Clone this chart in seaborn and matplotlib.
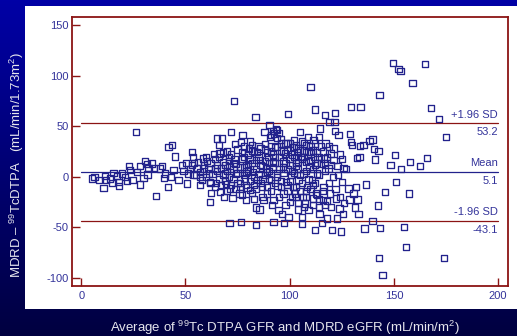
import numpy as np
import pandas as pd
import matplotlib
matplotlib.use("Agg")
import matplotlib.pyplot as plt
from matplotlib.markers import MarkerStyle
from matplotlib.patches import Rectangle
from matplotlib.colors import LinearSegmentedColormap
import seaborn as sns

# ---- data (average GFR, difference MDRD - 99TcDTPA) ----
pts_low = [
    (5.1, -1.6), (6.4, 0), (8.5, -3.3), (10.7, -10.9), (11.7, -3.3), (11.5, 0.7),
    (13.9, -1.6), (14.9, -5.9), (15.5, 4), (17.1, 0.7), (18.1, -5), (18.2, -9.2),
    (19.5, 3.3), (21.1, 0), (21.9, -4), (22.9, 10.5), (23.5, 6.6), (24.6, -3.3),
    (26.4, 44.2), (26.7, 4.9), (28.3, 10.5), (28.3, -7.6), (29.9, -1), (30.5, 15.5),
    (31.5, 12.5), (32.3, 8.9), (31.8, 2.3), (33.9, 13.2), (35, 8.9), (36, -19.1),
    (37.9, 8.2), (38.7, 10.9), (39.8, -1), (40.3, 3.3), (41.6, -9.9), (41.9, 29.7),
    (43.5, 31.3), (43, 0), (44.3, 6.6), (45.1, 20.1), (46.7, -3.3), (48.3, 11.5),
    (49.1, 5.9), (50.4, 13.8), (51.3, 3.3), (50.7, -6.6), (53.1, 24.7), (53.6, 19.8),
    (54.2, 13.8), (53.9, 2.3), (55.5, 8.9), (56.8, -8.2), (57.1, 0), (58.4, 18.1),
    (59, 8.2), (60.3, 15.8), (61.1, 3.3), (61.6, -24.7), (62.2, -15.8), (61.9, -4.9),
    (63.5, 22.4), (64.3, 8.2), (64.7, -5.9), (65.1, 37.9), (65.9, 31.3), (66.3, 23.1),
    (66.7, -14.8), (67.5, 37.9), (68, 14.8), (68.3, -19.8), (69.1, 3.3), (69.5, -7.3),
]
pts_mid = [
    (70.7, 19.8), (71.1, 10.5), (71.5, -11.5), (71.9, 44.5), (72.6, -20.8), (73.1, 75.1),
    (73.5, 17.1), (73.9, 32.3), (74.3, 3.3), (75, -5.9), (75.9, -16.5), (76.6, 34.6),
    (77.1, 24.7), (77.4, 41.2), (77.9, 9.9), (78.7, -1.6), (79.1, -23.1), (79.8, -10.5),
    (80.3, 28), (80.7, 17.1), (81.1, -13.2), (81.9, 31.3), (82.3, 4.9), (82.7, -22.1),
    (83.6, 59.3), (83.9, -30.3), (84.3, 24.7), (84.6, -3.3), (85.5, -32.3), (85.9, 16.5),
    (86.6, -9.9), (87.4, -23.1), (87.9, 44.5), (88.3, 32.3), (88.7, 8.2), (89, -16.5),
    (89.8, 19.8), (90.3, 51.1), (90.6, 39.6), (91, -3.3), (91.4, -28), (91.9, 14.8),
    (92.2, -23.1), (92.6, 42.8), (93, 29.7), (93.5, 47.1), (93.8, 3.3), (94.2, -9.2),
    (94.6, -33), (95.1, 19.8), (95.8, 36.9), (96.2, -36.3), (96.7, 9.9), (97, -16.5),
    (97.8, 23.1), (98.3, -4.9), (99, 33), (99.3, 62.3), (99.4, -39.6), (99.9, 18.1),
    (100.2, -24.7), (100.7, 1.6), (101.5, -9.9), (101.8, 29.7), (102.6, -16.5), (103, 10.9),
    (103.4, 24.7), (103.9, -32.3), (104.2, -3.3), (105, 44.2), (105.4, 19.8), (105.8, -39.6),
    (106.3, -19.8), (106.6, 3.3), (107, 33), (107.4, -26.4), (107.9, 14.8), (108.2, -9.9),
    (108.6, 39.6), (109, -33), (109.5, 9.9), (110, 89), (110.2, 24.7), (110.6, -3.3),
    (111.1, -21.4), (111.4, 36.3), (111.9, 19.8), (112.2, 66.6), (112.2, -52.1), (112.6, -16.5),
    (113, 3.3), (113.9, 39.6), (114.3, -36.3), (114.6, 47.8), (115, 13.2), (115.4, -45.5),
    (115.9, -23.1), (116.2, -9.9), (116.5, 18.1), (116.9, 61), (117.2, 33), (117.8, -41.2),
    (118.6, 8.2), (119.1, 54), (119.4, -16.5), (119.7, 23.1), (120.4, -52.7), (120.7, 0),
    (121.5, 54), (121.8, 63), (121.8, 45.5), (122.3, -21.4), (122.6, -41.2), (122.9, 10.5),
    (123.4, 41.2), (123.9, -31.3), (124.2, 22.1), (124.6, -54), (125, -4.9), (125.5, -36.3),
    (125.8, 8.9), (71.1, -45.2), (76.7, -44.8), (83.9, -47.5), (92.2, -44.5), (97.2, -45.5),
    (106, -46.5),
]
pts_high = [
    (128.2, -11.5), (128.7, -22.4), (129, 42.2), (129.3, 34.6), (129.3, 69.2), (129.8, 31.3),
    (130.6, -16.5), (131.4, -30.3), (131.9, -9.9), (132.2, 18.8), (132.5, -22.4), (133, -36.3),
    (133.5, 19.8), (134, 69.2), (133.8, 30.3), (135.4, 31.3), (135.9, -51.1), (136.5, -7.6),
    (138.3, 35.6), (139.7, 36.9), (139.7, -43.5), (140.5, 27.7), (141, 17.1), (142.3, -28.3),
    (142.6, 25.7), (143.1, 81.1), (143.2, -50.4), (142.9, -79.8), (144.5, -96.9), (145.6, -14.8),
    (148.4, 11.5), (149.5, 112.4), (150.4, 21.8), (151.1, -5.3), (152.2, 106.5), (153.2, 104.5),
    (153.5, 7.6), (154.9, -49.4), (155.8, -69.2), (157.2, -16.5), (157.6, 14.8), (158.9, 92.9),
    (162.7, 10.9), (164.8, 111.7), (166, 18.8), (167.9, 68.2), (171.5, 57.3), (174.1, -79.8),
    (174.9, 39.2),
]
pts_dense = [
    (52, 8), (53, 12), (55, 2), (56, 15), (57, 5), (58, -3), (59, 12), (60, 0), (60, 20),
    (61, 8), (62, -6), (62, 14), (63, 3), (64, 18), (64, -10), (65, 6), (65, 12), (66, -2),
    (66, 20), (67, 9), (67, -8), (68, 2), (68, 24), (69, 12), (69, -4), (70, 6), (70, -14),
    (71, 16), (71, 0), (72, -8), (72, 22), (73, 8), (73, -2), (74, 13), (74, -12), (75, 4),
    (75, 27), (76, -6), (76, 10), (77, 18), (77, -18), (78, 2), (78, 30), (79, 12), (79, -8),
    (80, 6), (80, 22), (81, -4), (81, 35), (82, 14), (82, -16), (83, 0), (83, 25), (84, 8),
    (84, -12), (85, 20), (85, 3), (86, -6), (86, 28), (87, 11), (87, -20), (88, 2), (88, 16),
    (89, -10), (89, 24), (90, 6), (90, -2), (91, 30), (91, -14), (92, 10), (92, 22), (93, -6),
    (93, 14), (94, 0), (94, 38), (95, -20), (95, 8), (96, 26), (96, -10), (97, 4), (97, 16),
    (98, -28), (98, 33), (99, 8), (99, -14), (100, 12), (100, -4), (101, 22), (101, -20),
    (102, 4), (102, 36), (103, -10), (103, 14), (104, -26), (104, 28), (105, 2), (105, -14),
    (106, 18), (106, -6), (107, 26), (107, -30), (108, 6), (108, -20), (109, 16), (109, -2),
    (110, 30), (110, -12), (111, 8), (111, -28), (112, 12), (112, -6), (113, 24), (113, -18),
    (114, 2), (114, -30), (115, 30), (116, -14), (117, 6), (118, -24), (118, 20), (119, -6),
    (120, 12), (120, -30), (121, 28), (122, -12), (123, 2), (124, -20), (125, 18), (126, -26),
    (127, 8), (92, 45), (94, 46), (95, 43), (91, 41),
]
pts_extra = [
    (78, 20), (80, 13), (82, 26), (84, 17), (85, 30), (86, 12), (88, 27), (89, 5), (90, 14),
    (91, 25), (93, 20), (94, 30), (96, 33), (97, 25), (98, 14), (99, 27), (100, 33), (101, 6),
    (102, 20), (103, 31), (104, 15), (105, 26), (106, 35), (107, 20), (108, 31), (109, 25),
    (110, 17), (111, 26), (112, 33), (113, 14), (114, 20), (116, 25), (117, 14), (119, 30),
    (121, 17), (104, 8), (96, -4), (99, -8), (103, -20), (108, -14), (111, -8), (114, -22),
    (117, -28), (87, -2), (83, -8), (79, 4), (76, -10), (73, 14), (70, 25),
]

mean_diff = 5.1
upper_loa = 53.2
lower_loa = -43.1
x_ticks = [0, 50, 100, 150, 200]
y_ticks = [-100, -50, 0, 50, 100, 150]

df = pd.DataFrame(pts_low + pts_mid + pts_high + pts_dense + pts_extra,
                  columns=["avg", "diff"])

# ---- style ----
sns.set_style("white")
plt.rcParams["font.family"] = ["Liberation Sans", "DejaVu Sans"]
plt.rcParams["mathtext.fontset"] = "custom"
plt.rcParams["mathtext.rm"] = "Liberation Sans"
plt.rcParams["mathtext.it"] = "Liberation Sans"

W, H = 517, 336
fig = plt.figure(figsize=(W / 100, H / 100), dpi=100)

# background gradient
bg = fig.add_axes([0, 0, 1, 1], zorder=-10)
grad = np.linspace(0, 1, 256).reshape(-1, 1)
cmap = LinearSegmentedColormap.from_list("bgblue", ["#0000a6", "#000040"])
bg.imshow(grad, aspect="auto", cmap=cmap, extent=[0, 1, 0, 1], origin="upper")
bg.add_patch(Rectangle((25 / W, 1 - 309 / H), 1 - 25 / W, (309 - 6) / H,
                       facecolor="white", edgecolor="none"))
bg.set_xlim(0, 1)
bg.set_ylim(0, 1)
bg.axis("off")

ax = fig.add_axes([72.3 / W, 1 - 285.7 / H, (507.7 - 72.3) / W, (285.7 - 16.7) / H])
ax.set_facecolor("white")

navy = "#22228c"
red = "#8b1414"
lab = "#33339a"

sns.scatterplot(data=df, x="avg", y="diff", ax=ax,
                marker=MarkerStyle("s", fillstyle="none"), s=20,
                color=navy, linewidth=0.95, legend=False, zorder=3)

ax.plot([0, 200], [upper_loa, upper_loa], color=red, lw=0.9, zorder=2)
ax.plot([0, 200], [lower_loa, lower_loa], color=red, lw=0.9, zorder=2)
ax.plot([0, 200], [mean_diff, mean_diff], color=navy, lw=0.9, zorder=2)

fs = 8
for yv, top, bot in [(upper_loa, "+1.96 SD", f"{upper_loa}"),
                     (mean_diff, "Mean", f"{mean_diff}"),
                     (lower_loa, "-1.96 SD", f"{lower_loa}")]:
    ax.annotate(top, (200, yv), xytext=(0, 2.5), textcoords="offset points",
                ha="right", va="bottom", fontsize=fs, color=lab)
    ax.annotate(bot, (200, yv), xytext=(0, -3), textcoords="offset points",
                ha="right", va="top", fontsize=fs, color=lab)

ax.set_xlim(-4.3, 204.6)
ax.set_ylim(-107.5, 158.2)
ax.set_xticks(x_ticks)
ax.set_yticks(y_ticks)
ax.set_xticklabels([str(t) for t in x_ticks])
ax.set_yticklabels([str(t) for t in y_ticks])
ax.tick_params(axis="both", direction="in", length=6, width=1.0, color=red,
               labelsize=fs, labelcolor=lab, bottom=True, left=True, top=False, right=False)
ax.tick_params(axis="x", pad=4)
ax.tick_params(axis="y", pad=2.5)
for sp in ax.spines.values():
    sp.set_visible(True)
    sp.set_color(red)
    sp.set_linewidth(1.3)
ax.set_xlabel("")
ax.set_ylabel("")

fig.text(285 / W, 1 - 327.5 / H,
         r"Average of $^{99}$Tc DTPA GFR and MDRD eGFR (mL/min/m$^{2}$)",
         ha="center", va="center", fontsize=9.5, color="#e6e6ee")
fig.text(16.5 / W, 1 - 165 / H,
         r"MDRD – $^{99}$TcDTPA   (mL/min/1.73m$^{2}$)",
         ha="center", va="center", rotation=90, fontsize=9.5, color="#e6e6ee")

fig.savefig("out.png", dpi=100)
